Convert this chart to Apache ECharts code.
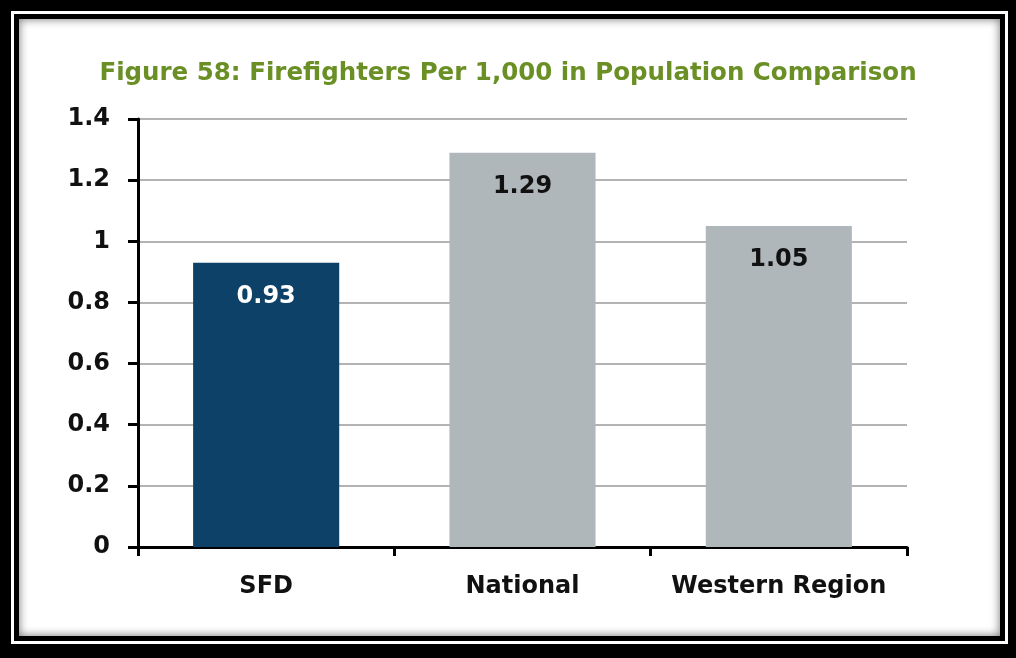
<!DOCTYPE html>
<html>
<head>
<meta charset="utf-8">
<script src="https://cdn.jsdelivr.net/npm/echarts@6/dist/echarts.min.js"></script>
<style>
  html, body { margin: 0; padding: 0; background: #000; width: 1016px; height: 658px; overflow: hidden; }
  .frame { position: absolute; left: 11px; top: 11px; right: 8px; bottom: 14px; border: 3px solid #fff; background: #000; }
  .inner { position: absolute; left: 5px; top: 5px; right: 5px; bottom: 5px; background: #fff;
           box-shadow: inset 0 0 10px rgba(0,0,0,0.55); }
  #chart { position: absolute; left: 0; top: 0; width: 1016px; height: 658px; }
</style>
</head>
<body>
<div class="frame"><div class="inner"></div></div>
<div id="chart"></div>
<script>
const categories = ['SFD', 'National', 'Western Region']
const values = [0.93, 1.29, 1.05]
const barColors = ['#0d4168', '#b0b7bb', '#b0b7bb']
const labelColors = ['#ffffff', '#111111', '#111111']

const FONT = '"DejaVu Sans", sans-serif'

const chart = echarts.init(document.getElementById('chart'), null, { renderer: 'canvas' })

chart.setOption({
  backgroundColor: 'transparent',
  animation: false,
  title: {
    text: 'Figure 58: Firefighters Per 1,000 in Population Comparison',
    left: 'center',
    top: 56,
    textStyle: { color: '#6a8f24', fontFamily: FONT, fontWeight: 'bold', fontSize: 24.5 },
  },
  grid: { left: 138, right: 109, top: 119, bottom: 111 },
  xAxis: {
    type: 'category',
    data: categories,
    axisLine: { lineStyle: { color: '#000', width: 3 } },
    axisTick: { show: true, interval: 0, alignWithLabel: false, length: 9, lineStyle: { color: '#000', width: 3 } },
    axisLabel: { interval: 0, color: '#111', fontFamily: FONT, fontWeight: 'bold', fontSize: 24, margin: 28 },
  },
  yAxis: {
    type: 'value',
    min: 0, max: 1.4, interval: 0.2,
    axisLine: { show: true, lineStyle: { color: '#000', width: 3 } },
    axisTick: { show: true, length: 10, lineStyle: { color: '#000', width: 3 } },
    axisLabel: { color: '#111', fontFamily: FONT, fontWeight: 'bold', fontSize: 24, margin: 28 },
    splitLine: { lineStyle: { color: '#b3b3b3', width: 2 } },
  },
  series: [{
    type: 'bar',
    barWidth: '57%',
    data: values.map((v, i) => ({
      value: v,
      itemStyle: { color: barColors[i] },
      label: { color: labelColors[i] },
    })),
    label: {
      show: true,
      position: 'insideTop',
      distance: 22,
      fontFamily: FONT,
      fontWeight: 'bold',
      fontSize: 24,
    },
  }],
})
</script>
</body>
</html>
